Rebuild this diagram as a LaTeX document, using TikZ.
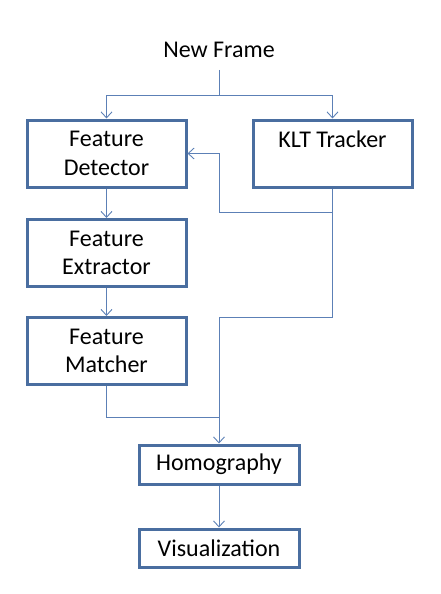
\documentclass[tikz,border=0pt]{standalone}
\usepackage{fontspec}
\setmainfont{Carlito}
\usetikzlibrary{arrows.meta}
\definecolor{boxblue}{RGB}{74,110,160}
\definecolor{lineblue}{RGB}{92,128,182}
\tikzset{
  block/.style={draw=boxblue, line width=3pt, fill=white, align=center,
    minimum width=159pt, minimum height=67pt, inner sep=0pt,
    font=\fontsize{24}{28.5}\selectfont},
  smallblock/.style={block, minimum width=160pt, minimum height=38pt},
  link/.style={draw=lineblue, line width=0.9pt},
  flow/.style={link, -{Straight Barb[length=6pt,width=11pt,line width=0.9pt]}}
}
\begin{document}
\begin{tikzpicture}[x=1pt, y=-1pt]
  \useasboundingbox (0,0) rectangle (441,594);
  % boxes
  \node[anchor=base, font=\fontsize{24}{28.5}\selectfont] (frame) at (219,58) {New Frame};
  \node[block] (det) at (106.5,153.5) {Feature\\Detector};
  \node[block] (klt) at (332.5,153.5) {KLT Tracker\\\mbox{}};
  \node[block] (ext) at (106.5,253) {Feature\\Extractor};
  \node[block] (mat) at (106.5,351) {Feature\\Matcher};
  \node[smallblock, minimum height=39pt] (hom) at (219,464.5) {Homography};
  \node[smallblock] (vis) at (219,548) {Visualization};
  % junctions
  \coordinate (split) at (219,95);
  \coordinate (kltdown) at (332.5,212);
  \coordinate (kltlow) at (332.5,317);
  \coordinate (matdown) at (106.5,417);
  % connectors
  \draw[link] (frame.south |- 0,70) -- (split);
  \draw[flow] (split) -| (det.north);
  \draw[flow] (split) -| (klt.north);
  \draw[flow] (det) -- (ext);
  \draw[flow] (ext) -- (mat);
  \draw[flow] (klt.south) -- (kltdown) -- (kltdown -| hom.north) -- (det.east -| hom.north) -- (det.east);
  \draw[flow] (kltdown) -- (kltlow) -- (kltlow -| hom.north) -- (hom.north);
  \draw[link] (mat.south) -- (matdown) -- (matdown -| hom.north);
  \draw[flow] (hom) -- (vis);
\end{tikzpicture}
\end{document}
